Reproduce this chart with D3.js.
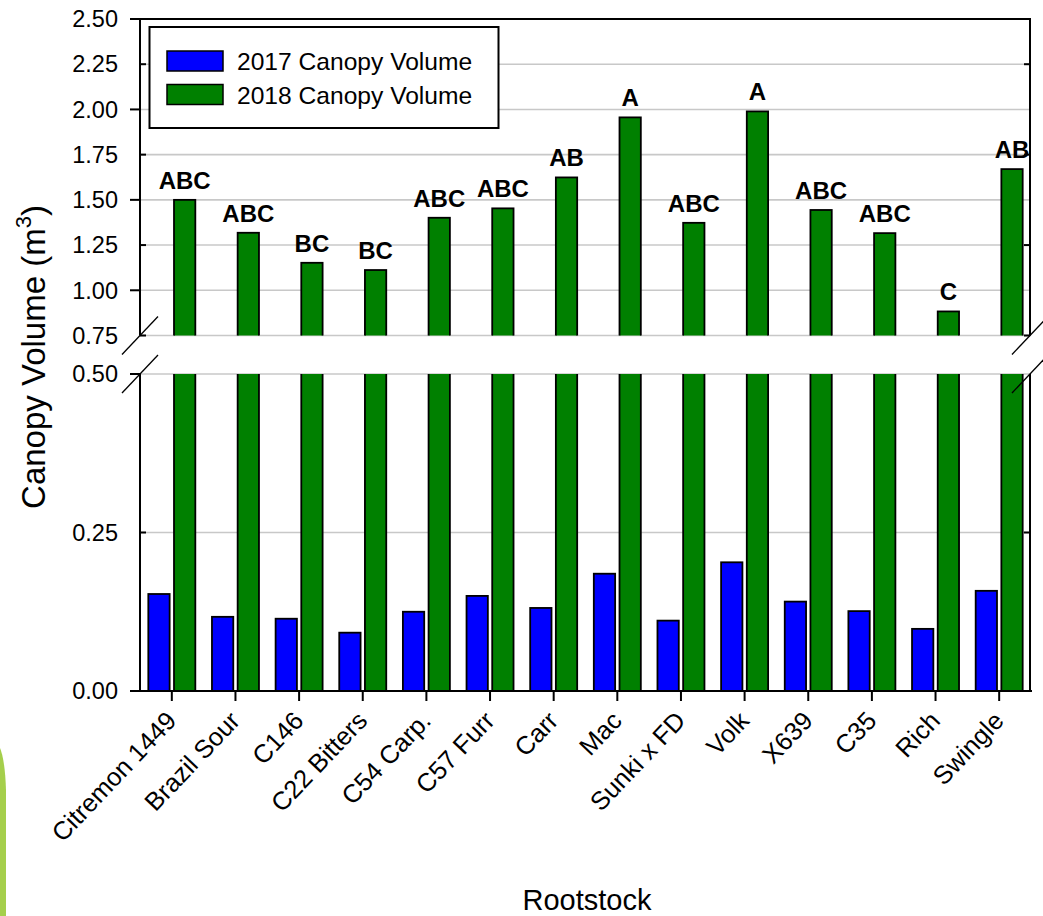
<!DOCTYPE html>
<html>
<head>
<meta charset="utf-8">
<script src="https://cdn.jsdelivr.net/npm/d3@7"></script>
<style>
  html, body { margin: 0; padding: 0; background: #fff; }
  svg { display: block; font-family: "Liberation Sans", Arial, Helvetica, sans-serif; }
</style>
</head>
<body>
<svg id="chart" width="1043" height="916"></svg>
<script>
const categories = ["Citremon 1449", "Brazil Sour", "C146", "C22 Bitters", "C54 Carp.", "C57 Furr",
  "Carr", "Mac", "Sunki x FD", "Volk", "X639", "C35", "Rich", "Swingle"];
const vol2017 = [0.153, 0.117, 0.114, 0.092, 0.125, 0.150, 0.131, 0.185, 0.111, 0.203, 0.141, 0.126, 0.098, 0.158];
const vol2018 = [1.50, 1.318, 1.152, 1.112, 1.401, 1.453, 1.624, 1.956, 1.373, 1.989, 1.444, 1.316, 0.883, 1.670];
const letters = ["ABC", "ABC", "BC", "BC", "ABC", "ABC", "AB", "A", "ABC", "A", "ABC", "ABC", "C", "AB"];
const seriesNames = ["2017 Canopy Volume", "2018 Canopy Volume"];
const seriesColors = ["#0000ff", "#008000"];
const upperTicks = [0.75, 1.00, 1.25, 1.50, 1.75, 2.00, 2.25, 2.50];
const lowerTicks = [0.00, 0.25, 0.50];
const majorTicks = [0.00, 0.50, 1.00, 1.50, 2.00, 2.50];

(function () {
const svg = d3.select("#chart");
const pL = 140, pR = 1031, pT = 19, pB = 691;
const breakTop = 335.5, breakBottom = 374;

const x = d3.scaleBand().domain(categories).range([pL, pR]).paddingInner(0).paddingOuter(0);
const xs = d3.scaleBand().domain([0, 1]).range([-23.5, 23.5]).paddingInner(0.17);
const yU = d3.scaleLinear().domain([0.75, 2.5]).range([breakTop, pT]);
const yL = d3.scaleLinear().domain([0, 0.5]).range([pB, breakBottom]);

// clip paths
const defs = svg.append("defs");
defs.append("clipPath").attr("id", "clipU").append("rect")
  .attr("x", pL).attr("y", pT - 60).attr("width", pR - pL).attr("height", breakTop - pT + 60);
defs.append("clipPath").attr("id", "clipL").append("rect")
  .attr("x", pL).attr("y", breakBottom).attr("width", pR - pL).attr("height", pB - breakBottom + 2);

// gridlines
const grid = svg.append("g");
grid.selectAll("line.gu").data(upperTicks.filter(d => d < 2.5)).join("line")
  .attr("x1", pL).attr("x2", pR).attr("y1", d => yU(d)).attr("y2", d => yU(d))
  .attr("stroke", "#c8c8c8").attr("stroke-width", 1.6);
grid.selectAll("line.gl").data(lowerTicks.filter(d => d > 0)).join("line")
  .attr("x1", pL).attr("x2", pR).attr("y1", d => yL(d)).attr("y2", d => yL(d))
  .attr("stroke", "#c8c8c8").attr("stroke-width", 1.6);

// bars
const data = categories.map((c, i) => ({ c, v: [vol2017[i], vol2018[i]] }));
const barsData = [];
data.forEach(d => d.v.forEach((v, s) => barsData.push({ c: d.c, v, s })));

const gU = svg.append("g").attr("clip-path", "url(#clipU)");
gU.selectAll("rect").data(barsData.filter(d => d.v > 0.75)).join("rect")
  .attr("x", d => x(d.c) + x.bandwidth() / 2 + xs(d.s))
  .attr("width", xs.bandwidth())
  .attr("y", d => yU(d.v))
  .attr("height", d => yU(0.75) + 10 - yU(d.v))
  .attr("fill", d => seriesColors[d.s]).attr("stroke", "#000").attr("stroke-width", 1.8);

const gL = svg.append("g").attr("clip-path", "url(#clipL)");
gL.selectAll("rect").data(barsData).join("rect")
  .attr("x", d => x(d.c) + x.bandwidth() / 2 + xs(d.s))
  .attr("width", xs.bandwidth())
  .attr("y", d => d.v > 0.5 ? yL(0.5) - 10 : yL(d.v))
  .attr("height", d => yL(0) - (d.v > 0.5 ? yL(0.5) - 10 : yL(d.v)))
  .attr("fill", d => seriesColors[d.s]).attr("stroke", "#000").attr("stroke-width", 1.8);

// significance letters
svg.append("g").selectAll("text").data(data).join("text")
  .attr("x", (d) => x(d.c) + x.bandwidth() / 2 + xs(1) + xs.bandwidth() / 2)
  .attr("y", d => yU(d.v[1]) - 11)
  .attr("text-anchor", "middle")
  .attr("font-size", 24).attr("font-weight", "bold")
  .text((d, i) => letters[i]);

// frame / axes lines
const ax = svg.append("g").attr("stroke", "#000").attr("stroke-width", 2).attr("fill", "none");
ax.append("line").attr("x1", 130).attr("x2", pR).attr("y1", pT).attr("y2", pT);
ax.append("line").attr("x1", pL).attr("x2", pL).attr("y1", pT).attr("y2", breakTop);
ax.append("line").attr("x1", pL).attr("x2", pL).attr("y1", breakBottom).attr("y2", pB);
ax.append("line").attr("x1", pR - 1).attr("x2", pR - 1).attr("y1", pT).attr("y2", breakTop);
ax.append("line").attr("x1", pR - 1).attr("x2", pR - 1).attr("y1", breakBottom).attr("y2", pB);
ax.append("line").attr("x1", 130).attr("x2", pR + 1).attr("y1", pB).attr("y2", pB);

// break slashes
[[pL, breakTop], [pL, breakBottom], [pR - 1, breakTop], [pR - 1, breakBottom]].forEach(p => {
  ax.append("line").attr("x1", p[0] - 18).attr("y1", p[1] + 19).attr("x2", p[0] + 18).attr("y2", p[1] - 19)
    .attr("stroke-width", 1.3);
});

// y ticks
const allTicks = upperTicks.map(v => ({ v, y: yU(v) })).concat(lowerTicks.filter(v => v < 0.75).map(v => ({ v, y: yL(v) })));
allTicks.forEach(t => {
  const major = majorTicks.some(m => Math.abs(m - t.v) < 1e-9);
  if (major) {
    ax.append("line").attr("x1", 130).attr("x2", pL).attr("y1", t.y).attr("y2", t.y);
  } else {
    ax.append("line").attr("x1", pL).attr("x2", pL + 6).attr("y1", t.y).attr("y2", t.y);
    ax.append("line").attr("x1", pR - 7).attr("x2", pR - 1).attr("y1", t.y).attr("y2", t.y);
  }
});
svg.append("g").selectAll("text").data(allTicks).join("text")
  .attr("x", 118).attr("y", d => d.y).attr("dy", "0.35em")
  .attr("text-anchor", "end").attr("font-size", 23.5)
  .text(d => d3.format(".2f")(d.v));

// x ticks
ax.selectAll("line.xt").data(categories).join("line")
  .attr("x1", d => x(d) + x.bandwidth() / 2).attr("x2", d => x(d) + x.bandwidth() / 2)
  .attr("y1", pB).attr("y2", pB + 10);
svg.append("g").selectAll("text").data(categories).join("text")
  .attr("transform", d => `translate(${x(d) + x.bandwidth() / 2 + 6},${pB + 31}) rotate(-46.5)`)
  .attr("text-anchor", "end").attr("font-size", 25.5)
  .text(d => d);

// axis titles
const yt = svg.append("text")
  .attr("transform", "translate(45,357) rotate(-90)")
  .attr("text-anchor", "middle").attr("font-size", 33);
yt.append("tspan").text("Canopy Volume (m");
yt.append("tspan").attr("font-size", 22).attr("dy", -14).text("3");
yt.append("tspan").attr("dy", 14).text(")");

svg.append("text").attr("x", 587).attr("y", 910).attr("text-anchor", "middle")
  .attr("font-size", 29).text("Rootstock");

// legend
const lg = svg.append("g");
lg.append("rect").attr("x", 149.5).attr("y", 27).attr("width", 349).attr("height", 101)
  .attr("fill", "#fff").attr("stroke", "#000").attr("stroke-width", 2);
seriesNames.forEach((n, i) => {
  lg.append("rect").attr("x", 167).attr("y", 51 + i * 33.5).attr("width", 56).attr("height", 20)
    .attr("fill", seriesColors[i]).attr("stroke", "#000").attr("stroke-width", 1.5);
  lg.append("text").attr("x", 237).attr("y", 70 + i * 33.5).attr("font-size", 24.6).text(n);
});

// decorative lime edge at bottom-left
svg.append("path").attr("d", "M0,748 Q5,760 6,790 L6,916 L0,916 Z").attr("fill", "#a5cf4c");
})();
</script>
</body>
</html>
